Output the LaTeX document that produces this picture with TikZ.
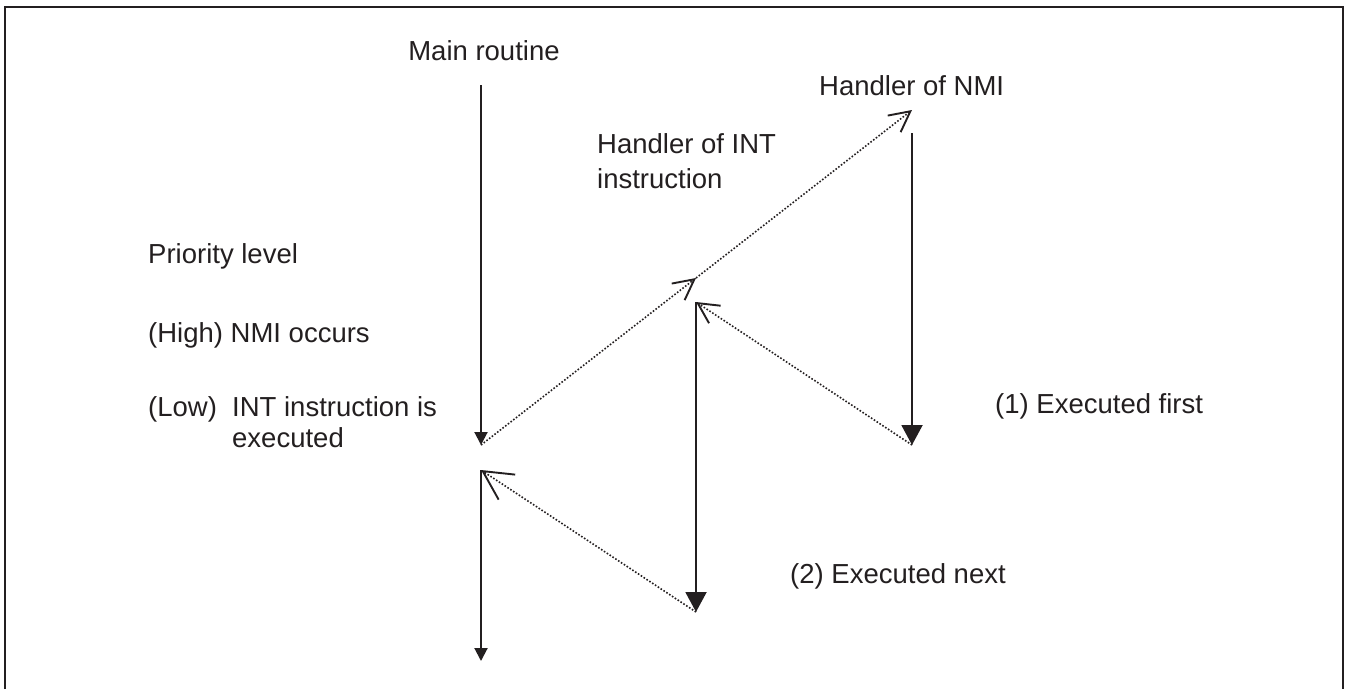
\documentclass[tikz,border=0pt]{standalone}
\usepackage{fontspec}
\setmainfont{Liberation Sans}
\usetikzlibrary{arrows.meta}
\definecolor{ink}{RGB}{35,31,32}
\begin{document}
\begin{tikzpicture}[x=1pt,y=-1pt,
  lbl/.style={anchor=base west, inner sep=0pt, text=ink,
    font=\fontsize{27.5}{33}\selectfont},
  flow/.style={draw=ink, line width=2pt},
  smalltip/.style={-{Triangle[length=13pt,width=13pt]}},
  bigtip/.style={-{Triangle[length=20pt,width=21pt]}},
  jump/.style={draw=ink, line width=1.6pt, dash pattern=on 1.6pt off 1.8pt,
    -{Straight Barb[length=20.5pt,width=21pt,line width=1.9pt]}},
  longjump/.style={draw=ink, line width=1.6pt, dash pattern=on 1.6pt off 1.8pt,
    -{Straight Barb[length=29pt,width=30pt,line width=1.9pt]}}]
\useasboundingbox (0,0) rectangle (1346,689);

% frame
\draw[ink, line width=2.8pt] (5,689) -- (5,7) -- (1343,7) -- (1343,689);

% points on the three execution lines
\coordinate (m0) at (481,85);
\coordinate (m1) at (481,445);
\coordinate (m2) at (481,470);
\coordinate (m3) at (481,661);
\coordinate (i0) at (696,278);
\coordinate (i1) at (696,302);
\coordinate (i2) at (696,612);
\coordinate (n0) at (912,110);
\coordinate (n1) at (912,133);
\coordinate (n2) at (912,445);

% labels
\node[lbl, anchor=base] (main) at (484,60) {Main routine};
\node[lbl] (nmih) at (819,95) {Handler of NMI};
\node[lbl] (inth1) at (597,153) {Handler of INT};
\node[lbl] (inth2) at (597,188) {instruction};
\node[lbl] (prio) at (148,263) {Priority level};
\node[lbl] (high) at (148,342) {(High) NMI occurs};
\node[lbl] (low) at (148,416) {(Low)};
\node[lbl] (lowa) at (232,416) {INT instruction is};
\node[lbl] (lowb) at (232,447) {executed};
\node[lbl] (first) at (995,413) {(1) Executed first};
\node[lbl] (next) at (790,583) {(2) Executed next};

% execution flow
\draw[flow, smalltip] (m0) -- (m1);
\draw[jump] (m1) -- (i0);
\draw[jump] (i0) -- (n0);
\draw[flow, bigtip] (n1) -- (n2);
\draw[jump] (n2) -- (i1);
\draw[flow, bigtip] (i1) -- (i2);
\draw[longjump] (i2) -- (m2);
\draw[flow, smalltip] (m2) -- (m3);
\end{tikzpicture}
\end{document}
